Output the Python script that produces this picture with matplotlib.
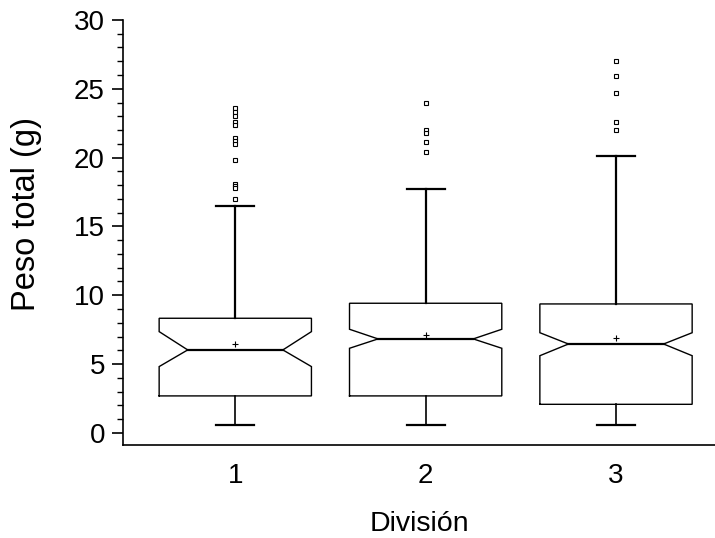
import numpy as np
import matplotlib.pyplot as plt

plt.rcParams['font.family'] = ['Liberation Sans', 'DejaVu Sans']

# Box plot summary per division
divisions = [1, 2, 3]
q1 = [2.69, 2.69, 2.08]
median = [6.03, 6.83, 6.46]
q3 = [8.33, 9.42, 9.37]
notch_lo = [4.82, 6.15, 5.61]
notch_hi = [7.36, 7.53, 7.28]
whisk_lo = [0.6, 0.6, 0.6]
whisk_hi = [16.5, 17.72, 20.14]
means = [6.46, 7.12, 6.87]
outliers = [
    [23.6, 23.3, 23.0, 22.6, 22.4, 21.4, 21.2, 21.0, 19.8, 18.1, 17.9, 17.8, 17.0],
    [24.0, 22.0, 21.8, 21.1, 20.4],
    [27.0, 25.9, 24.7, 22.6, 22.0],
]

fig = plt.figure(figsize=(7.15, 5.38), dpi=100)
ax = fig.add_axes([0.172, 0.173, 0.828, 0.790])

hw = 0.4      # half box width
nw = 0.25     # half width at notch waist
cw = 0.1      # half cap width
for i, x in enumerate(divisions):
    xs = [x - hw, x - hw, x - nw, x - hw, x - hw, x + hw, x + hw, x + nw, x + hw, x + hw, x - hw]
    ys = [q1[i], notch_lo[i], median[i], notch_hi[i], q3[i], q3[i], notch_hi[i], median[i],
          notch_lo[i], q1[i], q1[i]]
    ax.plot(xs, ys, color='black', lw=1.0, solid_joinstyle='miter')
    ax.plot([x - nw, x + nw], [median[i], median[i]], color='black', lw=1.6)
    # whiskers and caps
    ax.plot([x, x], [q3[i], whisk_hi[i]], color='black', lw=1.6)
    ax.plot([x, x], [q1[i], whisk_lo[i]], color='black', lw=1.2)
    ax.plot([x - cw, x + cw], [whisk_hi[i], whisk_hi[i]], color='black', lw=1.6)
    ax.plot([x - cw, x + cw], [whisk_lo[i], whisk_lo[i]], color='black', lw=1.6)
    # mean
    ax.plot(x, means[i], marker='+', color='black', ms=5, mew=0.8)
    # outliers
    ax.plot([x] * len(outliers[i]), outliers[i], ls='none', marker='s', ms=3.5,
            mfc='white', mec='black', mew=0.8)

ax.set_xlim(0.41, 3.52)
ax.set_ylim(-0.87, 30)
ax.set_xticks(divisions)
ax.set_xticklabels([str(d) for d in divisions])
ax.set_yticks(np.arange(0, 31, 5))
ax.set_yticks(np.arange(0, 31, 1), minor=True)
ax.tick_params(axis='x', length=0, pad=13, labelsize=20)
ax.tick_params(axis='y', which='major', length=8, width=1.2, labelsize=20, pad=5)
ax.tick_params(axis='y', which='minor', length=4.5, width=1.0)
ax.spines['top'].set_visible(False)
ax.spines['right'].set_visible(False)
ax.spines['left'].set_bounds(-0.87, 30)
ax.spines['left'].set_linewidth(1.2)
ax.spines['bottom'].set_linewidth(1.2)

ax.set_xlabel('División', fontsize=20.5, labelpad=16)
ax.set_ylabel('Peso total (g)', fontsize=23.5)
ax.yaxis.set_label_coords(-0.137, 0.5435)

fig.savefig('out.png', dpi=100)
